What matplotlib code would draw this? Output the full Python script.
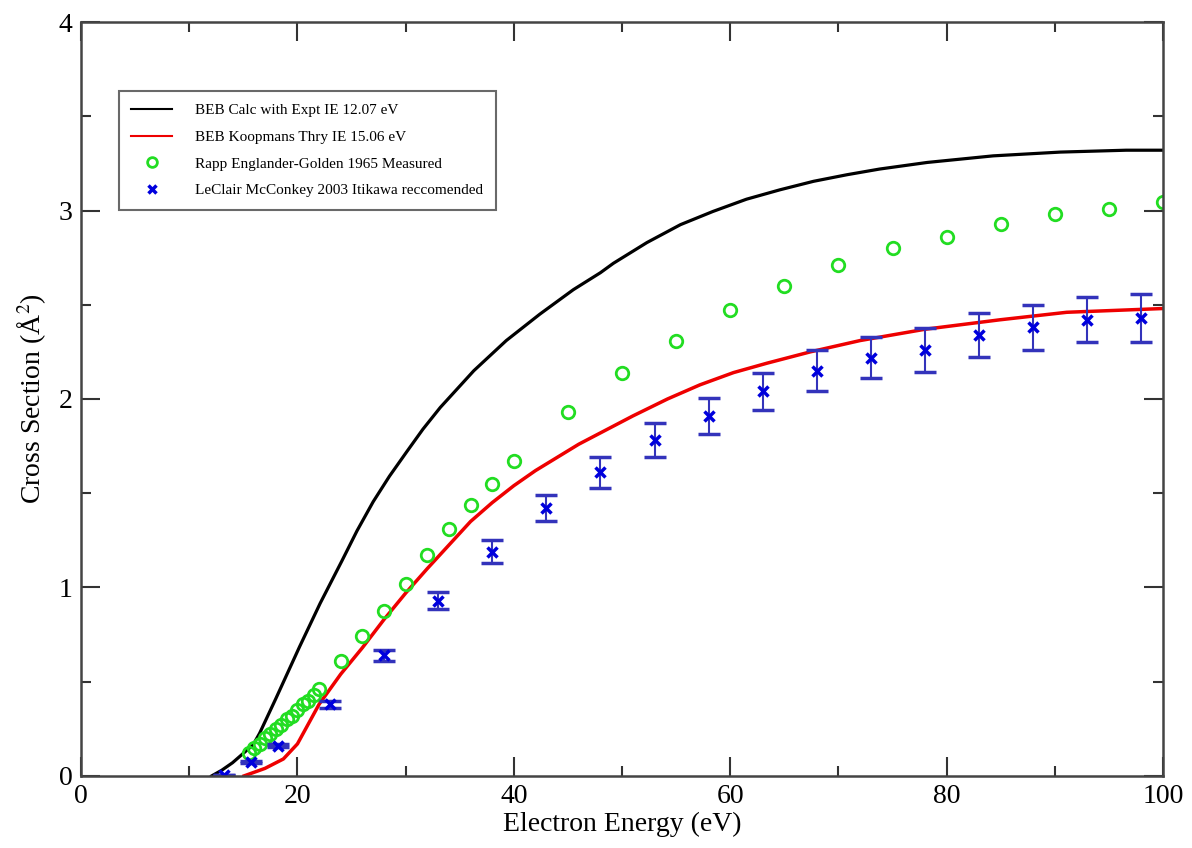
import numpy as np
import matplotlib
matplotlib.use('Agg')
import matplotlib.pyplot as plt
from matplotlib.ticker import MultipleLocator
from matplotlib.lines import Line2D

plt.rcParams['font.family'] = ['Liberation Serif', 'DejaVu Serif']
plt.rcParams['mathtext.fontset'] = 'stix'

# BEB curves
beb_expt_e = [12.07, 13, 14, 15, 15.9, 16.5, 18, 20.2, 22.1, 24.1, 25.5, 27.0, 28.5, 30.1, 31.6,
              33.2, 36.3, 39.3, 42.4, 45.5, 48.0, 49.2, 52.3, 55.4, 58.4, 61.5, 64.6, 67.7,
              70.8, 73.8, 78.2, 84.3, 90.5, 96.6, 100]
beb_expt_s = [0.0, 0.03, 0.07, 0.12, 0.165, 0.226, 0.41, 0.686, 0.916, 1.14, 1.30, 1.455, 1.59,
              1.72, 1.84, 1.955, 2.15, 2.31, 2.45, 2.58, 2.67, 2.72, 2.83, 2.925, 2.995, 3.06,
              3.11, 3.155, 3.19, 3.22, 3.255, 3.29, 3.31, 3.32, 3.32]

beb_koop_e = [15.06, 17, 18.7, 20, 22, 24, 26, 28, 30, 32, 34, 36, 38, 40, 42, 44, 46, 48, 51,
              54.2, 57.2, 60.3, 63.4, 67.4, 72, 78, 84.9, 91.1, 100]
beb_koop_s = [0.0, 0.04, 0.09, 0.17, 0.38, 0.54, 0.68, 0.83, 0.97, 1.10, 1.225, 1.35, 1.45,
              1.54, 1.62, 1.69, 1.76, 1.82, 1.91, 2.00, 2.075, 2.14, 2.19, 2.25, 2.31, 2.37,
              2.42, 2.46, 2.48]

# Rapp & Englander-Golden 1965
rapp_e = [15.5, 16, 16.5, 17, 17.5, 18, 18.5, 19, 19.5, 20, 20.5, 21, 21.5, 22,
          24, 26, 28, 30, 32, 34, 36, 38, 40, 45, 50, 55, 60, 65, 70, 75, 80, 85, 90, 95, 100]
rapp_s = [0.12, 0.15, 0.17, 0.20, 0.22, 0.25, 0.27, 0.30, 0.32, 0.35, 0.38, 0.40, 0.43, 0.46,
          0.61, 0.74, 0.875, 1.02, 1.17, 1.31, 1.44, 1.55, 1.67, 1.93, 2.14, 2.31, 2.47, 2.60,
          2.71, 2.80, 2.86, 2.93, 2.98, 3.01, 3.045]

# LeClair & McConkey 2003
lec_e = [13.2, 15.7, 18.2, 23, 28, 33, 38, 43, 48, 53, 58, 63, 68, 73, 78, 83, 88, 93, 98]
lec_s = [0.005, 0.075, 0.16, 0.38, 0.64, 0.93, 1.19, 1.42, 1.61, 1.78, 1.91, 2.04, 2.15, 2.22,
         2.26, 2.34, 2.38, 2.42, 2.43]
lec_err = [0.0, 0.004, 0.008, 0.02, 0.03, 0.045, 0.06, 0.07, 0.08, 0.09, 0.095, 0.10, 0.11, 0.11,
           0.115, 0.115, 0.12, 0.12, 0.125]

labels = ['BEB Calc with Expt IE 12.07 eV', 'BEB Koopmans Thry IE 15.06 eV',
          'Rapp Englander-Golden 1965 Measured', 'LeClair McConkey 2003 Itikawa reccomended']

fig = plt.figure(figsize=(11.92, 8.48), dpi=100)
ax = fig.add_axes([0.068, 0.085, 0.9077, 0.889])

green = '#22dd22'
blue = '#0000dd'

ax.plot(beb_expt_e, beb_expt_s, color='black', lw=2.3)
ax.plot(beb_koop_e, beb_koop_s, color='#ee0000', lw=2.5)
ax.plot(rapp_e, rapp_s, 'o', ms=9, mfc='none', mec=green, mew=2)
ax.errorbar(lec_e, lec_s, yerr=lec_err, fmt='x', color=blue, ms=7, mew=2.5,
            ecolor='#3333bb', elinewidth=1.5, capsize=8, capthick=1.5)

ax.set_xlim(0, 100)
ax.set_ylim(0, 4)
ax.xaxis.set_major_locator(MultipleLocator(20))
ax.xaxis.set_minor_locator(MultipleLocator(10))
ax.yaxis.set_major_locator(MultipleLocator(1))
ax.yaxis.set_minor_locator(MultipleLocator(0.5))
ax.tick_params(which='both', direction='in', top=True, right=True, color='#333333', width=1.5)
ax.tick_params(which='major', length=14, labelsize=20, pad=6)
ax.tick_params(which='minor', length=7)
for s in ax.spines.values():
    s.set_linewidth(1.8)
    s.set_color('#444444')

ax.set_xlabel('Electron Energy (eV)', fontsize=20, labelpad=2)
ax.set_ylabel('Cross Section (Å$^2$)', fontsize=20, labelpad=8)

handles = [Line2D([], [], color='black', lw=1.5),
           Line2D([], [], color='#ee0000', lw=1.5),
           Line2D([], [], ls='none', marker='o', ms=7, mfc='none', mec=green, mew=2),
           Line2D([], [], ls='none', marker='x', ms=6, mec=blue, mew=2.5)]
leg = ax.legend(handles, labels, loc='upper left', bbox_to_anchor=(0.035, 0.908),
                borderaxespad=0, fontsize=11, frameon=True, fancybox=False,
                edgecolor='#444444', handlelength=2.7, handletextpad=1.5, borderpad=0.8,
                labelspacing=0.85, numpoints=1)
leg.get_frame().set_linewidth(1.5)

fig.savefig('out.png', dpi=100)
